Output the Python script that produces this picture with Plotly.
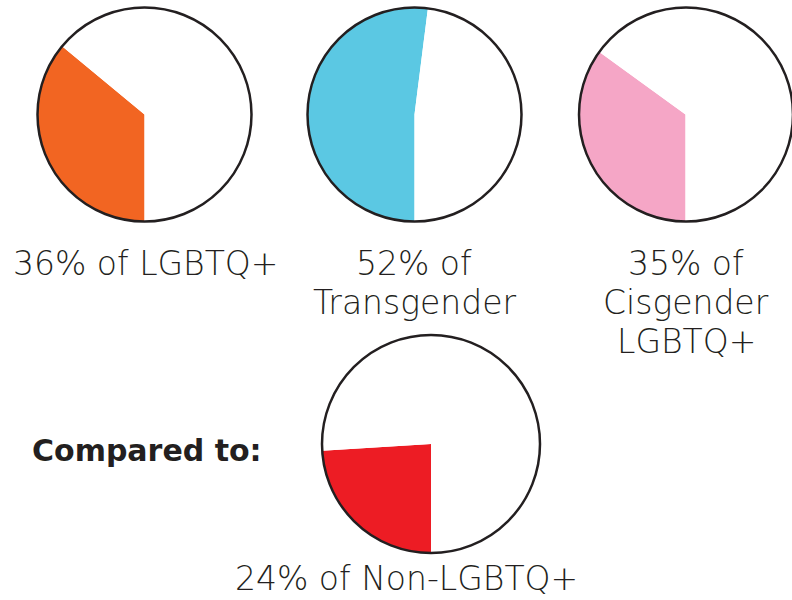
import plotly.graph_objects as go

W, H = 792, 600

groups = ["LGBTQ+", "Transgender", "Cisgender LGBTQ+", "Non-LGBTQ+"]
percents = [36, 52, 35, 24]
label_lines = [["36% of LGBTQ+"], ["52% of", "Transgender"], ["35% of", "Cisgender", "LGBTQ+"], ["24% of Non-LGBTQ+"]]
colors = ["#f26522", "#5bc8e3", "#f5a6c6", "#ed1c24"]

# circle centers / radius in pixels (layout)
centers = [(144.5, 114.5), (414.5, 114.5), (686, 114.5), (431, 444)]
radii = [107, 107, 107, 109]
label_x = [145, 414, 686, 407]
label_y0 = [263, 263, 263, 578]
line_gap = 39

fig = go.Figure()
shapes = []
annotations = []
for i in range(4):
    cx, cy = centers[i]
    r = radii[i]
    x0, x1 = (cx - r) / W, (cx + r) / W
    y0, y1 = 1 - (cy + r) / H, 1 - (cy - r) / H
    fig.add_trace(go.Pie(
        labels=[groups[i], "Other"],
        values=[percents[i], 100 - percents[i]],
        marker=dict(colors=[colors[i], "#ffffff"], line=dict(width=0)),
        sort=False, direction="clockwise", rotation=180,
        textinfo="none", hoverinfo="label+percent",
        domain=dict(x=[max(x0, 0), min(x1, 1)], y=[y0, y1]),
        showlegend=False,
    ))
    shapes.append(dict(type="circle", xref="paper", yref="paper",
                       x0=x0, x1=x1, y0=y0, y1=y1,
                       line=dict(color="#231f20", width=2.5)))
    for j, line in enumerate(label_lines[i]):
        ly = label_y0[i] + j * line_gap
        annotations.append(dict(text=line, x=label_x[i] / W, y=1 - ly / H, xref="paper", yref="paper",
                                showarrow=False, xanchor="center", yanchor="middle",
                                font=dict(family="DejaVu Sans", size=33, color="#231f20", weight=300)))

annotations.append(dict(text="<b>Compared to:</b>", x=147 / W, y=1 - 450 / H, xref="paper", yref="paper",
                        showarrow=False, xanchor="center", yanchor="middle",
                        font=dict(family="DejaVu Sans", size=30, color="#231f20")))

fig.update_layout(width=W, height=H, margin=dict(l=0, r=0, t=0, b=0),
                  paper_bgcolor="white", plot_bgcolor="white",
                  shapes=shapes, annotations=annotations)

fig.write_html("out.html", config={"displayModeBar": False},
               post_script="document.body.style.margin='0px';")
